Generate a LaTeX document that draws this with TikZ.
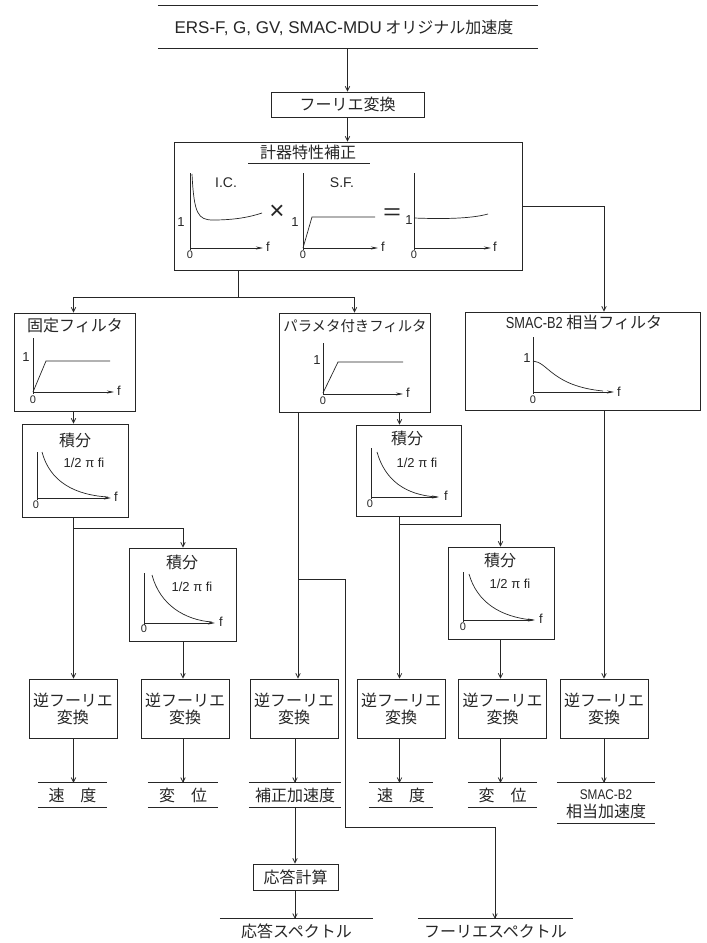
\documentclass[tikz,border=0pt]{standalone}
\usepackage{fontspec}
\setmainfont{Noto Sans CJK JP}
\newfontfamily\lat{Liberation Sans}
\usetikzlibrary{arrows.meta}
\newcommand\fsz[1]{\fontsize{#1}{#1}\selectfont}
\definecolor{ink}{gray}{0.15}
\tikzset{
  box/.style={draw=ink, line width=0.9pt, inner sep=0pt, text=ink, font=\fsz{16}},
  conn/.style={draw=ink, line width=0.7pt},
  arr/.style={conn, -{Straight Barb[length=4.5pt,width=4.5pt]}},
  axis/.style={draw=ink, line width=0.7pt, -{Stealth[length=7pt,width=3pt]}},
  crv/.style={draw=ink, line width=0.7pt},
  lbl/.style={inner sep=0pt, text=ink, font=\fsz{16}},
  sm/.style={inner sep=0pt, text=ink, font=\lat\fsz{13}},
  zero/.style={inner sep=0pt, text=ink, font=\lat\fsz{11}},
  res/.style={inner sep=0pt, text=ink, font=\fsz{16}, minimum height=24pt, align=center},
  invbox/.style={box, minimum width=88pt, minimum height=59pt, align=center, font=\fontsize{16}{17}\selectfont},
}
\begin{document}
\begin{tikzpicture}[x=1pt,y=-1pt]
\useasboundingbox[fill=white] (0,0) rectangle (707,943);

% ---------- top label ----------
\node[inner sep=0pt, minimum width=380pt, minimum height=42pt] (orig) at (348,27) {};
\node[lbl] (origt) at (344,28) {{\lat\fsz{17}ERS-F, G, GV, SMAC-MDU} オリジナル加速度};
\draw[conn] (orig.north west) -- (orig.north east);
\draw[conn] (orig.south west) -- (orig.south east);

% ---------- boxes ----------
\node[box, minimum width=153pt, minimum height=25pt] (ft) at (347.5,104.5) {フーリエ変換};
\node[box, minimum width=348pt, minimum height=128pt] (ic) at (348,206) {};
\node[box, minimum width=121pt, minimum height=98pt] (ff) at (74.5,362) {};
\node[box, minimum width=151pt, minimum height=99pt] (pf) at (354.5,362.5) {};
\node[box, minimum width=235pt, minimum height=98pt] (sf) at (582.5,361) {};
\node[box, minimum width=106pt, minimum height=93pt] (i1) at (75,470.5) {};
\node[box, minimum width=107pt, minimum height=93pt] (i2) at (182.5,594.5) {};
\node[box, minimum width=105pt, minimum height=91pt] (i3) at (408.5,470.5) {};
\node[box, minimum width=106pt, minimum height=92pt] (i4) at (501,593) {};

\node[invbox] (inv1) at (73,708.5) {逆フーリエ\\変換};
\node[invbox] (inv2) at (185,708.5) {逆フーリエ\\変換};
\node[invbox] (inv3) at (294,708.5) {逆フーリエ\\変換};
\node[invbox] (inv4) at (401,708.5) {逆フーリエ\\変換};
\node[invbox] (inv5) at (502.5,708.5) {逆フーリエ\\変換};
\node[invbox] (inv6) at (604,708.5) {逆フーリエ\\変換};

\node[res, minimum width=69pt] (r1) at (72.5,795) {速　度};
\node[res, minimum width=70pt] (r2) at (183,795) {変　位};
\node[res, minimum width=92pt] (r3) at (295,795) {補正加速度};
\node[res, minimum width=64pt] (r4) at (401,795) {速　度};
\node[res, minimum width=69pt] (r5) at (502.5,795) {変　位};
\node[res, minimum width=98pt, minimum height=40pt] (r6) at (606,803) {};
\node[inner sep=0pt, text=ink] (r6a) at (606,794.5) {\scalebox{0.84}[1]{\lat\fsz{14}SMAC-B2}};
\node[lbl] (r6b) at (606,811) {相当加速度};
\foreach \r in {r1,r2,r3,r4,r5,r6} {
  \draw[conn] (\r.north west) -- (\r.north east);
  \draw[conn] (\r.south west) -- (\r.south east);
}
\node[box, minimum width=85pt, minimum height=26pt] (rc) at (295.5,877) {応答計算};
\node[res, minimum width=153pt] (rs) at (296.5,931) {応答スペクトル};
\node[res, minimum width=155pt] (fs) at (495.5,931) {フーリエスペクトル};
\draw[conn] (rs.north west) -- (rs.north east);
\draw[conn] (fs.north west) -- (fs.north east);

% ---------- titles ----------
\node[lbl] (ict) at (308,152) {計器特性補正};
\draw[conn] (248,163) -- (370,163);
\node[lbl] (fft) at (75,325) {固定フィルタ};
\node[lbl, font=\fsz{14.4}] (pft) at (355,326) {パラメタ付きフィルタ};
\node[lbl] (sft) at (584,322) {\scalebox{0.8}[1]{\lat\fsz{16}SMAC-B2} 相当フィルタ};
\node[lbl] (i1t) at (75,440) {積分};
\node[lbl] (i2t) at (182,562) {積分};
\node[lbl] (i3t) at (407,438) {積分};
\node[lbl] (i4t) at (500,560) {積分};

% ---------- instrument correction plots ----------
\draw[crv] (190,173) -- (190,250);
\draw[axis] (190,248) -- (263,248);
\draw[crv] (192,174) .. controls (194,214) and (198,220) .. (213,220) .. controls (235,220) and (250,217) .. (262,213);
\node[sm] (icx1) at (181,222) {1};
\node[zero] (ico1) at (190,255) {0};
\node[sm] (icf1) at (268,247) {f};
\node[sm, font=\lat\fsz{14}] (icl1) at (226,183) {I.C.};
\node[inner sep=0pt, text=ink, font=\lat\fsz{26}] (times) at (277,212) {×};

\draw[crv] (303,173) -- (303,250);
\draw[axis] (303,248) -- (378,248);
\draw[crv] (303,248) -- (312,217) -- (375,217);
\node[sm] (icx2) at (295,222) {1};
\node[zero] (ico2) at (303,255) {0};
\node[sm] (icf2) at (383,247) {f};
\node[sm, font=\lat\fsz{14}] (icl2) at (342,183) {S.F.};
\node[inner sep=0pt, text=ink, font=\lat\fsz{22}] (eq) at (392,214) {\scalebox{1.4}[1]{=}};

\draw[crv] (414,173) -- (414,250);
\draw[axis] (414,248) -- (491,248);
\draw[crv] (414,218) .. controls (440,219) and (470,219) .. (488,214);
\node[sm] (icx3) at (409,220) {1};
\node[zero] (ico3) at (414,255) {0};
\node[sm] (icf3) at (495,247) {f};

% ---------- filter plots ----------
\draw[crv] (33,338) -- (33,394);
\draw[axis] (33,392) -- (114,392);
\draw[crv] (33,392) -- (46,361) -- (110,361);
\node[sm] (ffx) at (26,357) {1};
\node[zero] (ffo) at (33,400) {0};
\node[sm] (fff) at (119,391) {f};

\draw[crv] (323,343) -- (323,395);
\draw[axis] (323,394) -- (403,394);
\draw[crv] (323,393) -- (338,362) -- (403,362);
\node[sm] (pfx) at (317,360) {1};
\node[zero] (pfo) at (323,401) {0};
\node[sm] (pff) at (408,393) {f};

\draw[crv] (533,337) -- (533,394);
\draw[axis] (533,392) -- (614,392);
\draw[crv] (533,361) .. controls (548,362) and (552,386) .. (603,391);
\node[sm] (sfx) at (527,358) {1};
\node[zero] (sfo) at (533,400) {0};
\node[sm] (sff) at (619,392) {f};

% ---------- integration plots ----------
\draw[crv] (37,452) -- (37,500);
\draw[axis] (37,498) -- (111,498);
\draw[crv] (42,452) .. controls (50,482) and (75,495) .. (108,497);
\node[sm] (i1f) at (116,497) {f};
\node[zero] (i1o) at (36,505) {0};
\node[sm] (i1e) at (84,463) {1/2 π fi};

\draw[crv] (144,573) -- (144,625);
\draw[axis] (144,623) -- (215,623);
\draw[crv] (152,575) .. controls (160,605) and (185,620) .. (212,622);
\node[sm] (i2f) at (221,622) {f};
\node[zero] (i2o) at (144,629) {0};
\node[sm] (i2e) at (192,587) {1/2 π fi};

\draw[crv] (371,448) -- (371,499);
\draw[axis] (371,497) -- (439,497);
\draw[crv] (377,452) .. controls (385,480) and (405,495) .. (437,497);
\node[sm] (i3f) at (446,496) {f};
\node[zero] (i3o) at (370,504) {0};
\node[sm] (i3e) at (417,463) {1/2 π fi};

\draw[crv] (463,572) -- (463,622);
\draw[axis] (463,620) -- (535,620);
\draw[crv] (469,574) .. controls (477,602) and (500,617) .. (533,620);
\node[sm] (i4f) at (541,619) {f};
\node[zero] (i4o) at (463,627) {0};
\node[sm] (i4e) at (510,584) {1/2 π fi};

% ---------- connectors ----------
\coordinate (cA) at (73.5,0);
\coordinate (cB) at (183,0);
\coordinate (cC) at (298,0);
\coordinate (cC2) at (295,0);
\coordinate (cD) at (399.5,0);
\coordinate (cE) at (500.5,0);
\coordinate (cF) at (604,0);
\coordinate (cH) at (495,0);

\draw[arr] (orig.south -| ft.north) -- (ft.north);
\draw[arr] (ft.south) -- (ft.south |- ic.north);
\coordinate (j1) at (238,297);
\draw[conn] (ic.south -| j1) -- (j1);
\draw[arr] (j1) -| (ff.north -| cA);
\draw[arr] (j1) -| (pf.north);
\draw[arr] (ic.east) -| (sf.north -| cF);

\draw[arr] (ff.south -| cA) -- (i1.north -| cA);
\coordinate (j2) at (73.5,528);
\draw[conn] (i1.south -| cA) -- (j2);
\draw[arr] (j2) -- (inv1.north -| cA);
\draw[arr] (j2) -| (i2.north -| cB);
\draw[arr] (i2.south -| cB) -- (inv2.north -| cB);

\draw[arr] (pf.south -| cC) -- (inv3.north -| cC);
\coordinate (j4) at (298,579);
\coordinate (k1) at (345,827);
\draw[arr] (j4) -| (k1) -| (fs.north -| cH);

\draw[arr] (pf.south -| cD) -- (i3.north -| cD);
\coordinate (j3) at (399.5,524);
\draw[conn] (i3.south -| cD) -- (j3);
\draw[arr] (j3) -- (inv4.north -| cD);
\draw[arr] (j3) -| (i4.north -| cE);
\draw[arr] (i4.south -| cE) -- (inv5.north -| cE);
\draw[arr] (sf.south -| cF) -- (inv6.north -| cF);

\draw[arr] (inv1.south -| cA) -- (r1.north -| cA);
\draw[arr] (inv2.south -| cB) -- (r2.north -| cB);
\draw[arr] (inv3.south -| cC2) -- (r3.north -| cC2);
\draw[arr] (inv4.south -| cD) -- (r4.north -| cD);
\draw[arr] (inv5.south -| cE) -- (r5.north -| cE);
\draw[arr] (inv6.south -| cF) -- (r6.north -| cF);
\draw[arr] (r3.south -| cC2) -- (rc.north -| cC2);
\draw[arr] (rc.south -| cC2) -- (rs.north -| cC2);
\end{tikzpicture}
\end{document}
